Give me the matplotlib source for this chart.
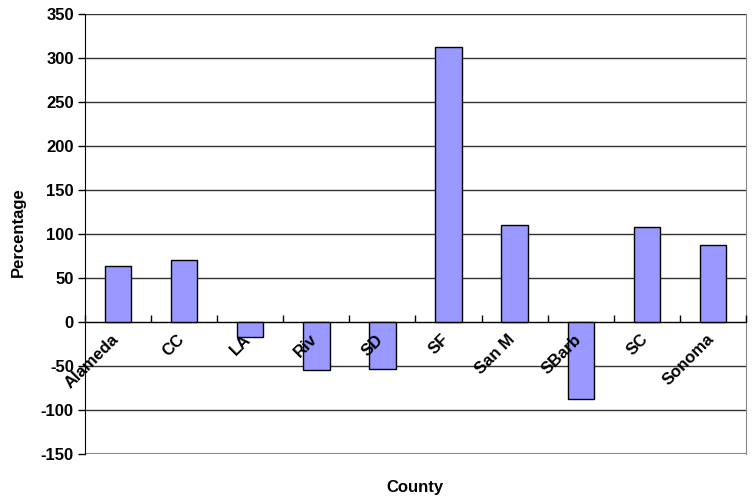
"""County percentage change bar chart (Excel-style)."""

import matplotlib

matplotlib.use("Agg")
import matplotlib.pyplot as plt  # noqa: E402
import matplotlib.transforms as mtransforms  # noqa: E402
import numpy as np  # noqa: E402

counties = ["Alameda", "CC", "LA", "Riv", "SD", "SF", "San M", "SBarb", "SC", "Sonoma"]
percentage = [64, 70, -17, -55, -53, 312, 110, -87, 108, 87]
y_ticks = [-150, -100, -50, 0, 50, 100, 150, 200, 250, 300, 350]

plt.rcParams["font.family"] = ["Liberation Sans", "DejaVu Sans"]
plt.rcParams["font.weight"] = "bold"

fig = plt.figure(figsize=(7.52, 5.04), dpi=100)
ax = fig.add_axes([0.113, 0.099, 0.879, 0.874])
ax.set_axisbelow(False)  # tick labels above the bars

x = np.arange(len(counties))
ax.bar(x, percentage, width=0.4, color="#9999FF", edgecolor="black", lw=1, zorder=2)

# gridlines drawn by hand so they stay behind the bars
for v in y_ticks:
    ax.axhline(v, color="#333333", lw=1, zorder=0.5)

ax.set_xlim(-0.5, len(counties) - 0.5)
ax.set_ylim(-150, 350)
ax.set_yticks(y_ticks)
ax.set_yticklabels([str(v) for v in y_ticks], fontsize=12)
ax.tick_params(axis="y", length=5, width=1, color="black", pad=3)

# x axis sits on the zero line: ticks between categories, labels at centres
ax.spines["bottom"].set_position(("data", 0))
ax.spines["bottom"].set_color("black")
ax.spines["left"].set_color("black")
ax.spines["top"].set_visible(False)
ax.spines["right"].set_color("#888888")
ax.set_xticks(np.arange(len(counties) + 1) - 0.5)
ax.set_xticklabels([])
ax.tick_params(axis="x", which="major", length=5, width=1, direction="in",
               bottom=True, top=False)
ax.set_xticks(x, minor=True)
ax.set_xticklabels(counties, minor=True, rotation=45, ha="right", va="top",
                   rotation_mode="anchor", fontsize=12)
ax.tick_params(axis="x", which="minor", length=0, pad=7)
shift = mtransforms.ScaledTranslation(-7 / 100, 0, fig.dpi_scale_trans)
for lab in ax.get_xticklabels(minor=True):
    lab.set_transform(lab.get_transform() + shift)

# grey plot-area border along the bottom
ax.axhline(-150, color="#888888", lw=1.5, zorder=1)

fig.text(0.025, 0.54, "Percentage", rotation=90, ha="center", va="center", fontsize=12)
fig.text(0.552, 0.032, "County", ha="center", va="center", fontsize=12)

fig.savefig("out.png", dpi=100)
